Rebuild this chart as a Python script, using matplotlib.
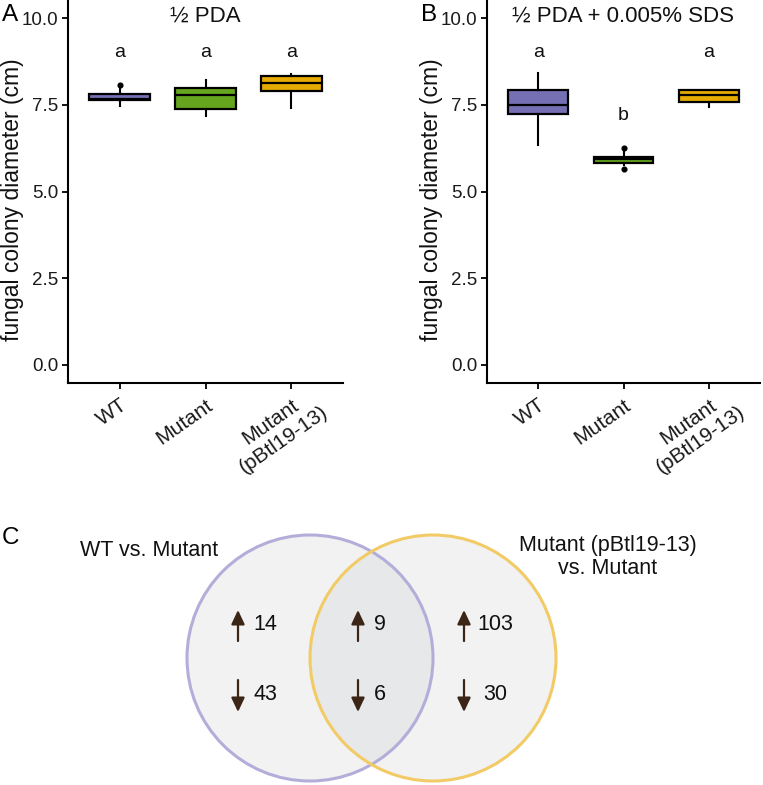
import math
import matplotlib
matplotlib.use("Agg")
import matplotlib.pyplot as plt
from matplotlib.patches import Circle

plt.rcParams['font.family'] = ['Liberation Sans', 'DejaVu Sans']

# ---------------- data ----------------
groups = ["WT", "Mutant", "Mutant\n(pBtl19-13)"]
colors = ["#7570b3", "#66a61e", "#e6ab02"]

# Panel A: 1/2 PDA  (q1, median, q3, lower whisker, upper whisker, outliers)
a_q1 = [7.64, 7.38, 7.90]
a_med = [7.67, 7.79, 8.13]
a_q3 = [7.82, 7.98, 8.35]
a_lo = [7.48, 7.18, 7.42]
a_hi = [8.03, 8.22, 8.38]
a_out = [[8.09], [], []]
a_letters = ["a", "a", "a"]
a_letter_y = [9.0, 9.0, 9.0]

# Panel B: 1/2 PDA + 0.005% SDS
b_q1 = [7.25, 5.84, 7.59]
b_med = [7.50, 5.93, 7.79]
b_q3 = [7.93, 6.01, 7.92]
b_lo = [6.34, 5.76, 7.44]
b_hi = [8.42, 6.17, 7.92]
b_out = [[], [6.25, 5.66], []]
b_letters = ["a", "b", "a"]
b_letter_y = [9.0, 7.2, 9.0]

yticks = [0.0, 2.5, 5.0, 7.5, 10.0]
ytick_labels = ["0.0", "2.5", "5.0", "7.5", "10.0"]

# Panel C: Venn counts
venn_sets = ["WT vs. Mutant", "Mutant (pBtl19-13)\nvs. Mutant"]
venn_up = [14, 9, 103]      # left only, shared, right only
venn_down = [43, 6, 30]

W, H = 763, 785
fig = plt.figure(figsize=(W / 100, H / 100), dpi=100)

XT_SIZE = 15
ANGLE = 35


def px_axes(x0, y0, x1, y1):
    return fig.add_axes([x0 / W, 1 - y1 / H, (x1 - x0) / W, (y1 - y0) / H])


def box_panel(ax, q1, med, q3, lo, hi, out, letters, ly, title):
    stats = []
    for i in range(len(groups)):
        stats.append(dict(q1=q1[i], med=med[i], q3=q3[i], whislo=lo[i],
                          whishi=hi[i], fliers=out[i]))
    pos = list(range(1, len(groups) + 1))
    bp = ax.bxp(stats, positions=pos, widths=0.7, patch_artist=True,
                showcaps=False,
                boxprops=dict(linewidth=1.6, edgecolor="black"),
                medianprops=dict(color="black", linewidth=1.6),
                whiskerprops=dict(color="black", linewidth=1.5),
                flierprops=dict(marker="o", markerfacecolor="black",
                                markeredgecolor="black", markersize=3.4))
    for patch, c in zip(bp["boxes"], colors):
        patch.set_facecolor(c)
    for p, t, y in zip(pos, letters, ly):
        ax.text(p, y, t, ha="center", va="center", fontsize=14, color="#111111")
    ax.set_xlim(0.4, 3.6)
    ax.set_ylim(-0.52, 10.5)
    ax.set_yticks(yticks)
    ax.set_yticklabels(ytick_labels)
    ax.set_xticks(pos)
    ax.set_xticklabels([])
    # x category labels: first line's top-right corner placed below the tick
    down = 9.0  # points below the axis line
    for p, g in zip(pos, groups):
        lines = g.split("\n")
        if len(lines) == 1:
            ax.annotate(g, xy=(p, 0), xycoords=ax.get_xaxis_transform(),
                        xytext=(0, -down), textcoords="offset points",
                        rotation=ANGLE, rotation_mode="anchor", ha="right",
                        va="top", fontsize=XT_SIZE, color="#1a1a1a",
                        annotation_clip=False)
        else:
            half = 3.057 * XT_SIZE / 2.0  # half width of first line, points
            dx = -half * math.cos(math.radians(ANGLE))
            dy = -down - half * math.sin(math.radians(ANGLE))
            ax.annotate(g, xy=(p, 0), xycoords=ax.get_xaxis_transform(),
                        xytext=(dx, dy), textcoords="offset points",
                        rotation=ANGLE, rotation_mode="anchor", ha="center",
                        va="top", multialignment="center", fontsize=XT_SIZE,
                        color="#1a1a1a", annotation_clip=False)
    ax.tick_params(axis="y", labelsize=13.5, pad=3)
    ax.tick_params(length=4, width=1.3, color="black",
                   labelcolor="#1a1a1a")
    for s in ["top", "right"]:
        ax.spines[s].set_visible(False)
    for s in ["left", "bottom"]:
        ax.spines[s].set_linewidth(1.5)
    ax.set_ylabel("fungal colony diameter (cm)", fontsize=16.5, color="#111111")
    ax.yaxis.set_label_coords(-0.16, 0.48)
    ax.set_title(title, fontsize=16, pad=0, y=0.987, va="top", color="#111111")


axA = px_axes(68, 1, 343, 383)
box_panel(axA, a_q1, a_med, a_q3, a_lo, a_hi, a_out, a_letters, a_letter_y,
          "½ PDA")
axB = px_axes(487, 1, 760, 383)
box_panel(axB, b_q1, b_med, b_q3, b_lo, b_hi, b_out, b_letters, b_letter_y,
          "½ PDA + 0.005% SDS")

fig.text(2 / W, 1 - 15 / H, "A", fontsize=17.5, va="center", ha="left")
fig.text(421 / W, 1 - 15 / H, "B", fontsize=17.5, va="center", ha="left")
fig.text(2 / W, 1 - 538 / H, "C", fontsize=17.5, va="center", ha="left")

# ---------------- Venn ----------------
axV = px_axes(0, 392.5, 763, 785)
axV.set_xlim(0, W)
axV.set_ylim(785, 392.5)
axV.axis("off")

centers = [(310, 658), (433, 658)]
r = 123
edge_cols = ["#b3aed9", "#f2cb66"]
for (cx, cy) in centers:
    axV.add_patch(Circle((cx, cy), r, facecolor="#c4c8ca", alpha=0.22,
                         edgecolor="none", zorder=1))
for (cx, cy), ec in zip(centers, edge_cols):
    axV.add_patch(Circle((cx, cy), r, facecolor="none", edgecolor=ec,
                         linewidth=2.2, zorder=2))

arrow_x = [238, 358, 464]
num_x = [265, 380, 495]
up_y, down_y = 624, 695
arrow_col = "#3b2517"
astyle = "-|>,head_length=0.85,head_width=0.4"
for ax_, nx, u, d in zip(arrow_x, num_x, venn_up, venn_down):
    axV.annotate("", xy=(ax_, up_y - 14), xytext=(ax_, up_y + 17),
                 arrowprops=dict(arrowstyle=astyle, color=arrow_col, lw=1.6,
                                 shrinkA=0, shrinkB=0),
                 zorder=3)
    axV.annotate("", xy=(ax_, down_y + 17), xytext=(ax_, down_y - 15),
                 arrowprops=dict(arrowstyle=astyle, color=arrow_col, lw=1.6,
                                 shrinkA=0, shrinkB=0),
                 zorder=3)
    axV.text(nx, up_y, str(u), ha="center", va="center", fontsize=15.5,
             color="#111111", zorder=4)
    axV.text(nx, down_y, str(d), ha="center", va="center", fontsize=15.5,
             color="#111111", zorder=4)

axV.text(80, 551, venn_sets[0], ha="left", va="center", fontsize=15.5,
         color="#111111")
axV.text(608, 557, venn_sets[1], ha="center", va="center", fontsize=15.5,
         color="#111111", multialignment="center", linespacing=1.15)

fig.savefig("out.png", dpi=100)
